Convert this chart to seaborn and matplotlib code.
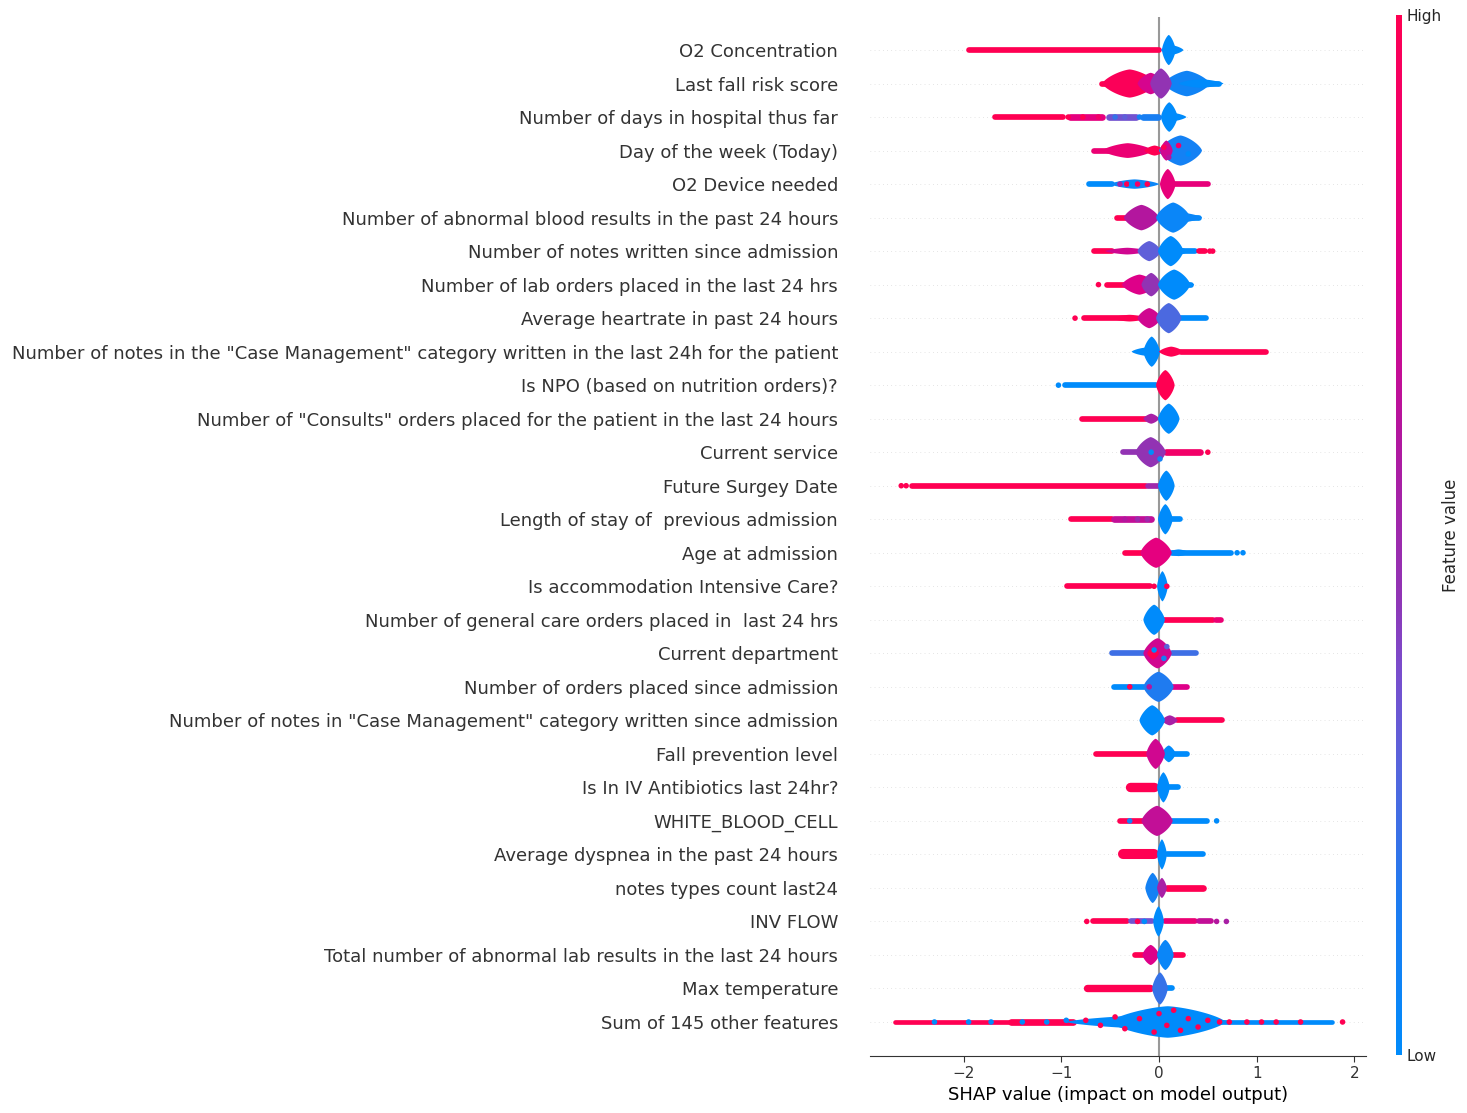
import numpy as np
import pandas as pd
import matplotlib
matplotlib.use("Agg")
import matplotlib.pyplot as plt
from matplotlib.colors import LinearSegmentedColormap, Normalize
from matplotlib.cm import ScalarMappable
from matplotlib.patches import Polygon
import seaborn as sns

features = [
    "O2 Concentration",
    "Last fall risk score",
    "Number of days in hospital thus far",
    "Day of the week (Today)",
    "O2 Device needed",
    "Number of abnormal blood results in the past 24 hours",
    "Number of notes written since admission",
    "Number of lab orders placed in the last 24 hrs",
    "Average heartrate in past 24 hours",
    'Number of notes in the "Case Management" category written in the last 24h for the patient',
    "Is NPO (based on nutrition orders)?",
    'Number of "Consults" orders placed for the patient in the last 24 hours',
    "Current service",
    "Future Surgey Date",
    "Length of stay of  previous admission",
    "Age at admission",
    "Is accommodation Intensive Care?",
    "Number of general care orders placed in  last 24 hrs",
    "Current department",
    "Number of orders placed since admission",
    'Number of notes in "Case Management" category written since admission',
    "Fall prevention level",
    "Is In IV Antibiotics last 24hr?",
    "WHITE_BLOOD_CELL",
    "Average dyspnea in the past 24 hours",
    "notes types count last24",
    "INV FLOW",
    "Total number of abnormal lab results in the last 24 hours",
    "Max temperature",
    "Sum of 145 other features",
]

# thin runs of points: (row, shap from, shap to, feature value, thickness in rows)
tails = [
    (0, -1.98, 0.03, 1.0, 0.17),
    (1, -0.61, -0.40, 1.0, 0.17), (1, 0.40, 0.64, 0.0, 0.17),
    (2, -1.71, -0.95, 1.0, 0.17), (2, -0.95, -0.55, 0.8, 0.2),
    (2, -0.55, -0.20, 0.35, 0.2), (2, -0.20, 0.02, 0.12, 0.2),
    (3, -0.70, -0.45, 0.85, 0.17),
    (4, -0.75, -0.45, 0.0, 0.17), (4, 0.10, 0.53, 0.82, 0.17),
    (5, -0.46, -0.28, 1.0, 0.17), (5, 0.25, 0.44, 0.0, 0.17),
    (6, -0.70, -0.45, 1.0, 0.17), (6, 0.22, 0.40, 0.0, 0.17), (6, 0.38, 0.50, 1.0, 0.17),
    (7, -0.56, -0.30, 1.0, 0.17), (7, 0.25, 0.36, 0.0, 0.17),
    (8, -0.80, -0.25, 1.0, 0.17), (8, 0.15, 0.51, 0.0, 0.17),
    (9, 0.20, 1.13, 1.0, 0.17),
    (10, -0.99, 0.0, 0.0, 0.17),
    (11, -0.82, -0.10, 1.0, 0.17),
    (12, -0.40, -0.18, 0.45, 0.17), (12, 0.04, 0.45, 0.9, 0.2),
    (13, -2.56, -0.10, 1.0, 0.17), (13, -0.14, 0.02, 0.5, 0.17),
    (14, -0.93, -0.45, 1.0, 0.17), (14, -0.50, -0.05, 0.65, 0.2), (14, 0.05, 0.24, 0.0, 0.17),
    (15, -0.38, -0.12, 1.0, 0.17), (15, 0.10, 0.77, 0.0, 0.17),
    (16, -0.97, -0.06, 1.0, 0.17),
    (17, 0.02, 0.58, 1.0, 0.17), (17, 0.55, 0.66, 0.85, 0.17),
    (18, -0.51, -0.10, 0.22, 0.17), (18, 0.10, 0.41, 0.22, 0.17),
    (19, -0.49, -0.12, 0.0, 0.17), (19, 0.10, 0.32, 0.75, 0.17),
    (20, 0.15, 0.67, 1.0, 0.17),
    (21, -0.67, -0.08, 1.0, 0.17), (21, 0.10, 0.32, 0.0, 0.17),
    (22, -0.35, 0.0, 1.0, 0.28), (22, 0.05, 0.22, 0.0, 0.17),
    (23, -0.43, -0.12, 1.0, 0.17), (23, 0.10, 0.52, 0.0, 0.17),
    (24, -0.42, 0.0, 1.0, 0.3), (24, 0.05, 0.48, 0.0, 0.17),
    (25, 0.05, 0.48, 1.0, 0.2),
    (26, -0.71, -0.30, 1.0, 0.17), (26, -0.32, -0.04, 0.35, 0.17),
    (26, 0.03, 0.40, 0.85, 0.17), (26, 0.38, 0.56, 0.65, 0.17),
    (27, -0.27, -0.10, 1.0, 0.17), (27, 0.10, 0.27, 1.0, 0.17),
    (28, -0.78, -0.05, 1.0, 0.22), (28, 0.0, 0.16, 0.0, 0.17),
    (29, -2.73, -0.90, 1.0, 0.14), (29, -1.55, -0.85, 1.0, 0.2), (29, 0.55, 1.80, 0.0, 0.14),
]

# dense piles of points: (row, shap from, shap to, half height in rows, feature value)
blobs = [
    (0, 0.02, 0.25, 0.14, 0.0), (0, 0.03, 0.17, 0.45, 0.0),
    (1, -0.58, -0.02, 0.42, 0.97), (1, 0.05, 0.52, 0.38, 0.08), (1, 0.20, 0.66, 0.13, 0.0),
    (1, -0.22, 0.05, 0.32, 0.72), (1, -0.09, 0.13, 0.45, 0.45),
    (2, 0.02, 0.19, 0.44, 0.0), (2, 0.02, 0.28, 0.12, 0.0),
    (3, -0.58, -0.06, 0.22, 0.85), (3, -0.15, 0.06, 0.15, 1.0),
    (3, 0.0, 0.44, 0.45, 0.1), (3, 0.01, 0.14, 0.3, 0.7),
    (4, -0.50, 0.0, 0.14, 0.05), (4, 0.01, 0.17, 0.45, 0.82),
    (5, -0.36, 0.0, 0.38, 0.6), (5, -0.03, 0.32, 0.45, 0.05), (5, 0.0, 0.44, 0.15, 0.05),
    (6, -0.55, -0.10, 0.1, 0.7), (6, -0.22, 0.02, 0.3, 0.3),
    (6, -0.01, 0.25, 0.45, 0.0), (6, 0.0, 0.30, 0.15, 0.0),
    (7, -0.38, -0.02, 0.3, 0.75), (7, -0.18, 0.02, 0.35, 0.45),
    (7, -0.01, 0.32, 0.45, 0.0), (7, 0.0, 0.36, 0.13, 0.0),
    (8, -0.50, -0.10, 0.1, 1.0), (8, -0.22, 0.02, 0.3, 0.7), (8, -0.03, 0.23, 0.45, 0.25),
    (9, -0.28, 0.0, 0.12, 0.0), (9, -0.16, 0.01, 0.45, 0.0), (9, 0.0, 0.25, 0.15, 1.0),
    (10, -0.03, 0.16, 0.45, 1.0),
    (11, -0.16, 0.0, 0.15, 0.55), (11, -0.01, 0.21, 0.45, 0.0),
    (12, -0.24, 0.07, 0.45, 0.45),
    (13, -0.01, 0.16, 0.45, 0.0),
    (14, -0.01, 0.14, 0.45, 0.0),
    (15, 0.08, 0.32, 0.1, 0.0), (15, -0.19, 0.13, 0.45, 0.8),
    (16, -0.02, 0.09, 0.45, 0.0),
    (17, -0.16, 0.06, 0.45, 0.0),
    (18, -0.16, 0.13, 0.45, 0.7), (18, -0.12, 0.0, 0.18, 1.0),
    (19, -0.16, 0.15, 0.45, 0.15),
    (20, 0.03, 0.19, 0.15, 0.55), (20, -0.20, 0.06, 0.45, 0.0),
    (21, 0.03, 0.17, 0.25, 0.0), (21, -0.13, 0.06, 0.45, 0.7),
    (22, -0.02, 0.11, 0.45, 0.0),
    (23, -0.18, 0.14, 0.45, 0.65),
    (24, -0.02, 0.08, 0.45, 0.0),
    (25, -0.14, 0.01, 0.45, 0.1), (25, -0.02, 0.08, 0.3, 0.55),
    (26, -0.06, 0.05, 0.45, 0.0),
    (27, -0.17, 0.0, 0.3, 0.75), (27, -0.02, 0.15, 0.45, 0.05),
    (28, -0.07, 0.09, 0.48, 0.2),
    (29, -0.95, 0.75, 0.2, 0.0), (29, -0.50, 0.68, 0.47, 0.0),
]

# single visible points: (row, shap, feature value, vertical offset in rows)
dots = [
    (2, -0.93, 1.0, 0.0), (2, -0.78, 1.0, 0.0), (2, -0.62, 0.9, 0.0),
    (2, -0.45, 0.2, 0.0), (2, -0.35, 0.3, 0.0), (2, -0.20, 0.1, 0.0),
    (3, 0.05, 1.0, 0.1), (3, 0.10, 0.6, -0.2), (3, 0.20, 0.9, 0.15), (3, 0.30, 0.0, -0.1),
    (4, -0.40, 0.5, 0.0), (4, -0.33, 1.0, 0.0), (4, -0.22, 0.9, 0.0),
    (4, -0.12, 1.0, 0.0), (4, -0.28, 0.0, 0.0),
    (6, 0.52, 1.0, 0.0), (6, 0.55, 1.0, 0.0),
    (7, -0.62, 1.0, 0.0),
    (8, -0.86, 1.0, 0.0),
    (10, -1.03, 0.0, 0.0),
    (12, 0.50, 1.0, 0.0), (12, -0.08, 0.0, 0.0), (12, 0.01, 0.1, -0.2),
    (13, -2.64, 1.0, 0.0), (13, -2.59, 1.0, 0.0),
    (14, -0.35, 0.6, 0.0), (14, -0.22, 0.5, 0.0), (14, -0.12, 0.5, 0.0),
    (15, 0.80, 0.0, 0.0), (15, 0.86, 0.0, 0.0),
    (16, -0.05, 1.0, 0.0), (16, 0.08, 1.0, 0.0),
    (18, -0.05, 0.0, 0.1), (18, 0.05, 0.1, -0.15), (18, 0.08, 0.3, 0.2),
    (19, -0.30, 1.0, 0.0), (19, -0.10, 0.6, 0.0),
    (23, -0.30, 0.1, 0.0), (23, 0.59, 0.0, 0.0),
    (26, -0.74, 1.0, 0.0), (26, -0.15, 0.0, 0.0), (26, -0.22, 1.0, 0.0),
    (26, 0.59, 0.6, 0.0), (26, 0.69, 0.55, 0.0),
    (29, -2.30, 0.0, 0.0), (29, -1.95, 0.0, 0.0), (29, -1.72, 0.0, 0.0),
    (29, -1.40, 0.0, 0.0), (29, -1.15, 0.0, 0.0), (29, -0.95, 0.0, 0.05),
    (29, -0.75, 1.0, 0.05), (29, -0.60, 1.0, -0.1), (29, -0.45, 1.0, 0.15),
    (29, -0.35, 1.0, -0.2), (29, -0.20, 1.0, 0.1), (29, -0.05, 1.0, -0.3),
    (29, 0.00, 1.0, 0.25), (29, 0.08, 1.0, -0.1), (29, 0.15, 1.0, 0.35),
    (29, 0.22, 1.0, -0.25), (29, 0.30, 1.0, 0.1), (29, 0.40, 1.0, -0.15),
    (29, 0.50, 1.0, 0.05), (29, 0.62, 1.0, 0.0), (29, 0.72, 1.0, 0.0),
    (29, 0.90, 1.0, 0.0), (29, 1.05, 1.0, 0.0), (29, 1.20, 1.0, 0.0),
    (29, 1.45, 1.0, 0.0), (29, 1.88, 1.0, 0.0),
]

cmap = LinearSegmentedColormap.from_list("red_blue", [
    (0.0, "#008bfb"), (0.15, "#1f7bf0"), (0.28, "#5864dc"), (0.37, "#7a4dcc"),
    (0.44, "#9035b5"), (0.6, "#b3169e"), (0.75, "#de008a"), (1.0, "#ff0052")])

sns.set_style("white")
plt.rcParams["font.family"] = ["DejaVu Sans"]

W, H = 1467, 1113
fig = plt.figure(figsize=(W / 100, H / 100), dpi=100)
ax = fig.add_axes([870 / W, 1 - 1055.5 / H, 496 / W, 1039 / H])
n = len(features)
ax.set_xlim(-2.96, 2.12)
ax.set_ylim(-1, n)

row_px = 1039 / (n + 1)
px_per_unit = 496 / (2.12 + 2.96)

for i in range(n):
    ax.axhline(i, color="#cccccc", lw=0.5, dashes=(1, 5), zorder=-1)
ax.axvline(0, color="#999999", lw=1.5, zorder=-1)

for r, x0, x1, v, th in tails:
    y = n - 1 - r
    lw = th * row_px * 0.72
    cap = th * row_px / 2 / px_per_unit
    a, b = x0 + cap, x1 - cap
    if b < a:
        a = b = (x0 + x1) / 2
    ax.plot([a, b], [y, y], color=cmap(v), lw=lw, solid_capstyle="round", zorder=1)

# swarm piles drawn as lens shapes (between a diamond and an ellipse)
t = np.linspace(0, 2 * np.pi, 90)
cx, cy = np.cos(t), np.sin(t)
lens_x = np.sign(cx) * np.abs(cx) ** (2 / 1.4)
lens_y = np.sign(cy) * np.abs(cy) ** (2 / 1.4)
for r, x0, x1, h, v in blobs:
    y = n - 1 - r
    xs = (x0 + x1) / 2 + lens_x * (x1 - x0) / 2
    ys = y + lens_y * h
    ax.add_patch(Polygon(np.column_stack([xs, ys]), closed=True, color=cmap(v), lw=0, zorder=2))

dot_df = pd.DataFrame(dots, columns=["row", "shap", "val", "dy"])
dot_df["y"] = n - 1 - dot_df["row"] + dot_df["dy"]
sns.scatterplot(data=dot_df, x="shap", y="y", hue="val", palette=cmap, hue_norm=(0, 1),
                s=16, linewidth=0, legend=False, ax=ax, zorder=3)

ax.set_yticks(range(n))
ax.set_yticklabels(features[::-1])
ax.tick_params(axis="y", length=0, pad=23, labelsize=13, labelcolor="#333333")
ax.tick_params(axis="x", labelsize=11, labelcolor="#333333", color="#333333",
               length=4, width=0.8, bottom=True)
ax.set_xticks([-2, -1, 0, 1, 2])
ax.set_xlabel("SHAP value (impact on model output)", fontsize=13, color="#000000")
ax.set_ylabel("")
for s in ["top", "right", "left"]:
    ax.spines[s].set_visible(False)
ax.spines["bottom"].set_color("#333333")
ax.grid(False)

cax = fig.add_axes([1396 / W, 1 - 1055 / H, 6 / W, 1040 / H])
cb = fig.colorbar(ScalarMappable(norm=Normalize(0, 1), cmap=cmap), cax=cax)
cb.set_ticks([0, 1])
cb.set_ticklabels(["Low", "High"])
cb.ax.tick_params(labelsize=11, length=0)
cb.set_label("Feature value", size=12, labelpad=0)
cb.outline.set_visible(False)

fig.savefig("out.png", dpi=100)
